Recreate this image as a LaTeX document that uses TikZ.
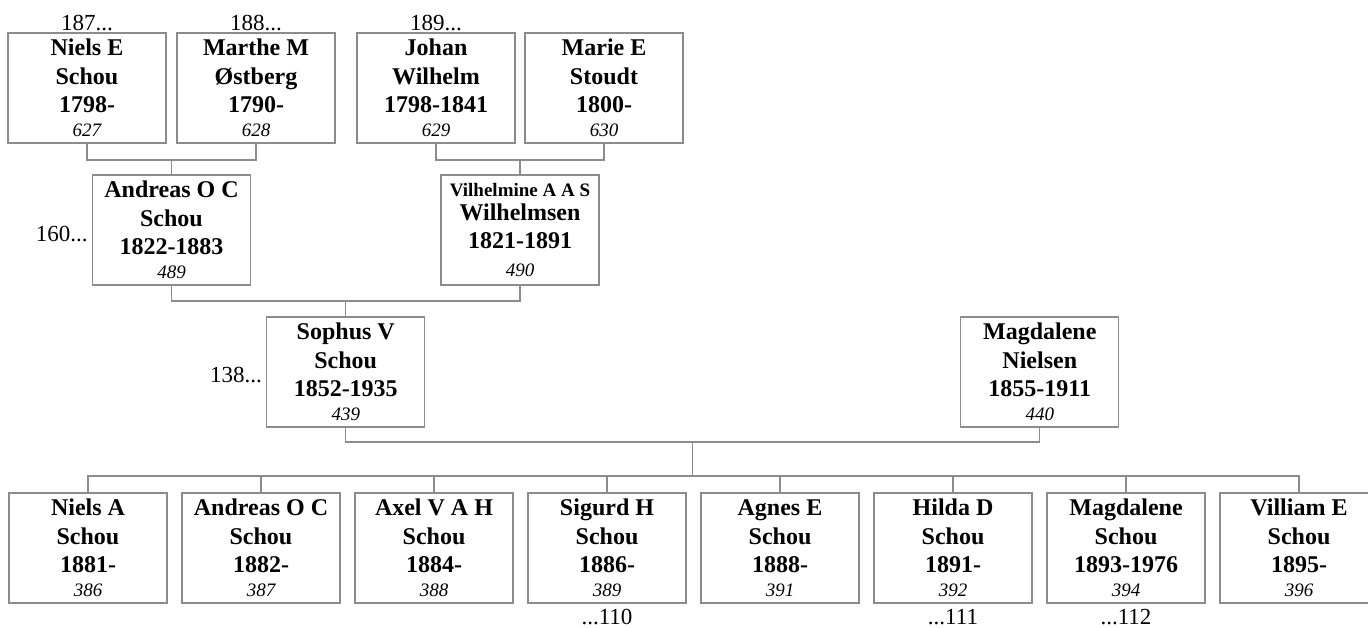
\documentclass[tikz,border=0pt]{standalone}
\usepackage{fontspec}
\setmainfont{Liberation Serif}
\usepackage{xcolor}
\usetikzlibrary{positioning,calc}
\definecolor{linegray}{RGB}{140,140,140}
\newcommand{\idno}[1]{{\fontsize{19}{22}\selectfont\mdseries\itshape #1}}
\tikzset{
  person/.style={draw=linegray, line width=1.2pt, minimum width=158pt, minimum height=110pt,
    inner sep=0pt, outer sep=0pt, align=center, font=\fontsize{24}{28.5}\selectfont\bfseries},
  link/.style={draw=linegray, line width=1.2pt},
  gen/.style={font=\fontsize{23}{26}\selectfont, inner sep=1pt, outer sep=0pt}
}

\begin{document}
\begin{tikzpicture}[x=1pt,y=-1pt]
\clip (0,0) rectangle (1368,628);
% great-grandparents
\node[person] (niels) at (87,88) {Niels E\\Schou\\1798-\\[-5pt]\idno{627}};
\node[person, right=11pt of niels] (marthe) {Marthe M\\Østberg\\1790-\\[-5pt]\idno{628}};
\node[person, right=22pt of marthe] (johan) {Johan\\Wilhelm\\1798-1841\\[-5pt]\idno{629}};
\node[person, right=10pt of johan] (marie) {Marie E\\Stoudt\\1800-\\[-5pt]\idno{630}};
\node[gen, above=1pt of niels] (g187) {187...};
\node[gen, above=1pt of marthe] (g188) {188...};
\node[gen, above=1pt of johan] (g189) {189...};
% grandparents
\node[person] (andreas) at ($(niels)!0.5!(marthe)+(0,142)$) {Andreas O C\\Schou\\1822-1883\\[-5pt]\idno{489}};
\node[person] (vilhelmine) at ($(johan)!0.5!(marie)+(0,142)$)
  {{\fontsize{19}{22}\selectfont Vilhelmine A A S}\\[-4pt]Wilhelmsen\\[-1pt]1821-1891\\\idno{490}};
\node[gen, left=4pt of andreas, yshift=-4pt] (g160) {160...};
% parents
\node[person] (sophus) at ($(andreas)!0.5!(vilhelmine)+(0,142)$) {Sophus V\\Schou\\1852-1935\\[-5pt]\idno{439}};
\node[person, right=536pt of sophus] (magdalene) {Magdalene\\Nielsen\\1855-1911\\[-5pt]\idno{440}};
\node[gen, left=4pt of sophus, yshift=-3pt] (g138) {138...};
% children
\node[person] (niels2) at (88,548) {Niels A\\Schou\\1881-\\[-5pt]\idno{386}};
\node[person, right=15pt of niels2] (andreas2) {Andreas O C\\Schou\\1882-\\[-5pt]\idno{387}};
\node[person, right=15pt of andreas2] (axel) {Axel V A H\\Schou\\1884-\\[-5pt]\idno{388}};
\node[person, right=15pt of axel] (sigurd) {Sigurd H\\Schou\\1886-\\[-5pt]\idno{389}};
\node[person, right=15pt of sigurd] (agnes) {Agnes E\\Schou\\1888-\\[-5pt]\idno{391}};
\node[person, right=15pt of agnes] (hilda) {Hilda D\\Schou\\1891-\\[-5pt]\idno{392}};
\node[person, right=15pt of hilda] (magdalene2) {Magdalene\\Schou\\1893-1976\\[-5pt]\idno{394}};
\node[person, right=15pt of magdalene2] (villiam) {Villiam E\\Schou\\1895-\\[-5pt]\idno{396}};
\node[gen, below=5pt of sigurd] (g110) {...110};
\node[gen, below=5pt of hilda] (g111) {...111};
\node[gen, below=5pt of magdalene2] (g112) {...112};
% links
\draw[link] (niels.south) -- ++(0,17) -| (marthe.south);
\draw[link] (andreas.north) -- ++(0,-16);
\draw[link] (johan.south) -- ++(0,17) -| (marie.south);
\draw[link] (vilhelmine.north) -- ++(0,-16);
\draw[link] (andreas.south) -- ++(0,16) -| (vilhelmine.south);
\draw[link] (sophus.north) -- ++(0,-17);
\draw[link] (sophus.south) -- ++(0,15) -| (magdalene.south);
\draw[link] ($(sophus.south)!0.5!(magdalene.south)+(0,15)$) -- ++(0,34);
\draw[link] (niels2.north) -- ++(0,-17) -| (villiam.north);
\draw[link] (andreas2.north) -- ++(0,-17);
\draw[link] (axel.north) -- ++(0,-17);
\draw[link] (sigurd.north) -- ++(0,-17);
\draw[link] (agnes.north) -- ++(0,-17);
\draw[link] (hilda.north) -- ++(0,-17);
\draw[link] (magdalene2.north) -- ++(0,-17);
\end{tikzpicture}
\end{document}
